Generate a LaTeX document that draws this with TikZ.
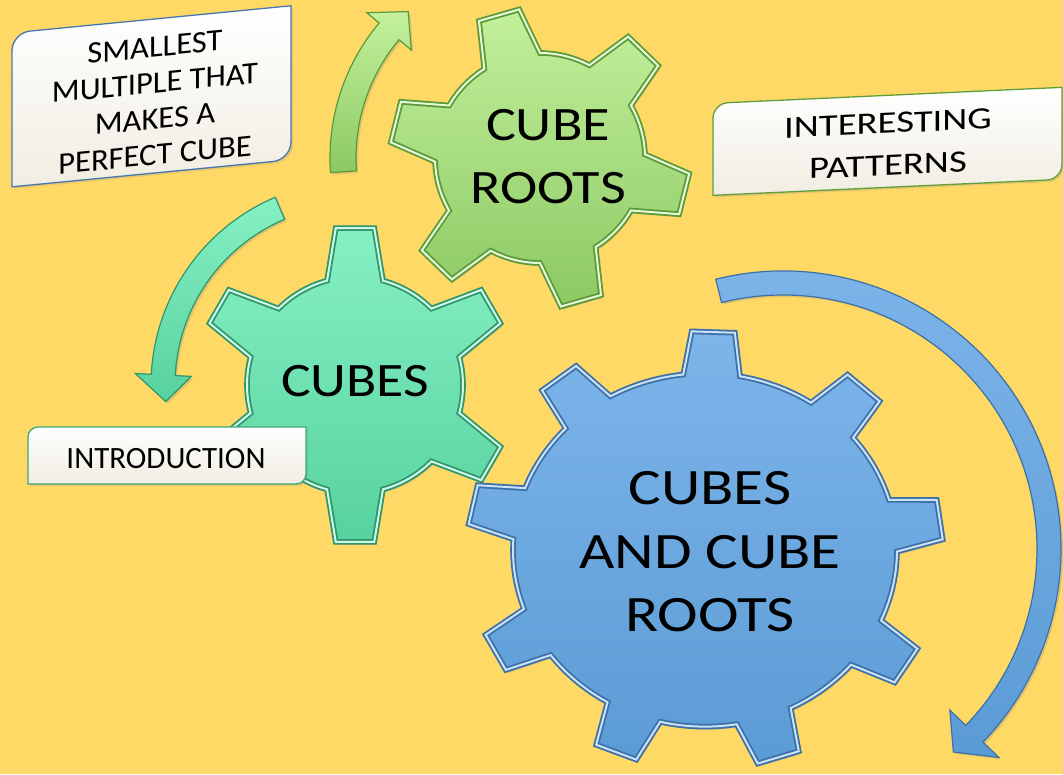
\documentclass[tikz,border=0pt]{standalone}
\usepackage{fontspec}
\setmainfont{Carlito}
\usepackage{tikz}
\usetikzlibrary{calc, shadows}

\definecolor{bgyellow}{HTML}{FFD966}
\definecolor{rootstop}{HTML}{C3F09C}
\definecolor{rootsbot}{HTML}{8CC964}
\definecolor{rootsedge}{HTML}{5A9A38}
\definecolor{cubestop}{HTML}{86F0C4}
\definecolor{cubesbot}{HTML}{57D29F}
\definecolor{cubesedge}{HTML}{2E966A}
\definecolor{bothtop}{HTML}{7DB5EA}
\definecolor{bothbot}{HTML}{5B9BD5}
\definecolor{bothedge}{HTML}{3C70A8}
\definecolor{cardbot}{HTML}{F1EDE2}
\definecolor{cardblue}{HTML}{4A76B0}
\definecolor{cardgreen}{HTML}{5E9E3C}
\definecolor{cardteal}{HTML}{3DA67A}

\begin{document}
\begin{tikzpicture}[
        x=1pt, y=1pt,
        gear/.style={line width=1.8pt, double distance=2pt, drop shadow={shadow xshift=2pt, shadow yshift=-3pt, opacity=0.3}},
        rootsgear/.style={gear, top color=rootstop, bottom color=rootsbot, draw=rootsedge, double=rootstop!40!white},
        cubesgear/.style={gear, top color=cubestop, bottom color=cubesbot, draw=cubesedge, double=cubestop!40!white},
        bothgear/.style={gear, top color=bothtop, bottom color=bothbot, draw=bothedge, double=bothtop!40!white},
        turn/.style={line width=1.2pt, drop shadow={shadow xshift=2pt, shadow yshift=-2pt, opacity=0.25}},
        card/.style={top color=white, bottom color=cardbot, line width=1.3pt, drop shadow={shadow xshift=2pt, shadow yshift=-2pt, opacity=0.2}},
        cardtext/.style={font=\fontsize{31}{36}\selectfont, align=center},
        geartext/.style={font=\fontsize{48}{63}\selectfont, align=center}
    ]

        \useasboundingbox (0,0) rectangle (1063,774);
        \fill[bgyellow] (0,0) rectangle (1063,774);

        \coordinate (roots) at (540,616);
        \coordinate (cubes) at (355,389);
        \coordinate (both) at (705,224);
        \coordinate (sweep) at (783,225);

        
        \path[turn, top color=rootstop, bottom color=rootsbot, draw=rootsedge]
            ($(roots)+(184:210)$) arc[start angle=184, end angle=140, radius=210]
            -- ($(roots)+(140:226)$) -- ($(roots)+(132:197)$) -- ($(roots)+(140:168)$)
            -- ($(roots)+(140:184)$) arc[start angle=140, end angle=184, radius=184] -- cycle;

        \path[turn, top color=cubestop, bottom color=cubesbot, draw=cubesedge]
            ($(cubes)+(113:204)$) arc[start angle=113, end angle=177, radius=204]
            -- ($(cubes)+(177:220)$) -- ($(cubes)+(185:190)$) -- ($(cubes)+(177:164)$)
            -- ($(cubes)+(177:180)$) arc[start angle=177, end angle=113, radius=180] -- cycle;

        \path[turn, top color=bothtop, bottom color=bothbot, draw=bothedge]
            ($(sweep)+(104:278)$) arc[start angle=104, end angle=-44, radius=278]
            -- ($(sweep)+(-44:300)$) -- ($(sweep)+(-50:265)$) -- ($(sweep)+(-44:232)$)
            -- ($(sweep)+(-44:254)$) arc[start angle=-44, end angle=104, radius=254] -- cycle;

        
        \begin{scope}[shift={(roots)}]
            \path[rootsgear] (30:105)
                \foreach \a in {46,106,...,346} {
                    -- ({\a-8}:150) -- ({\a+8}:150) -- ({\a+16}:105)
                    arc[start angle=\a+16, end angle=\a+44, radius=105]
                } -- cycle;
        \end{scope}

        \begin{scope}[shift={(cubes)}]
            \path[cubesgear] (15:108)
                \foreach \a in {30,90,...,330} {
                    -- ({\a-7}:158) -- ({\a+7}:158) -- ({\a+15}:108)
                    arc[start angle=\a+15, end angle=\a+45, radius=108]
                } -- cycle;
        \end{scope}

        \begin{scope}[shift={(both)}, yscale=0.92]
            \path[bothgear] (-0.5:192)
                \foreach \a in {8,48,...,328} {
                    -- ({\a-5.2}:238) -- ({\a+5.2}:238) -- ({\a+8.5}:192)
                    arc[start angle=\a+8.5, end angle=\a+31.5, radius=192]
                } -- cycle;
        \end{scope}

        \node[geartext, xscale=1.17] (rootsname) at (548,617) {CUBE\\ROOTS};
        \node[geartext, xscale=1.16] (cubesname) at (355,393) {CUBES};
        \node[geartext, font=\fontsize{51}{63.5}\selectfont, xscale=1.2] (bothname) at (710,222) {CUBES\\AND CUBE\\ROOTS};

        
        \begin{scope}[yslant=0.097]
            \draw[card, draw=cardblue] (12,586) -- (12,722) arc[start angle=180, end angle=90, radius=18]
                -- (291,740) -- (291,604) arc[start angle=0, end angle=-90, radius=18] -- cycle;
            \node[cardtext, transform shape, xscale=1.05] (multiple) at (155,658) {SMALLEST\\MULTIPLE THAT\\MAKES A\\PERFECT CUBE};
        \end{scope}

        \begin{scope}[yslant=0.0458]
            \draw[card, draw=cardgreen] (713,546) -- (713,623) arc[start angle=180, end angle=90, radius=15]
                -- (1062,638) -- (1062,561) arc[start angle=0, end angle=-90, radius=15] -- cycle;
            \node[cardtext, transform shape, font=\fontsize{31}{42}\selectfont, xscale=1.25] (patterns) at (888,589) {INTERESTING\\PATTERNS};
        \end{scope}

        \draw[card, draw=cardteal] (28,290) -- (28,337) arc[start angle=180, end angle=90, radius=10]
            -- (306,347) -- (306,300) arc[start angle=0, end angle=-90, radius=10] -- cycle;
        \node[cardtext] (intro) at (166,315) {INTRODUCTION};

    \end{tikzpicture}
\end{document}
